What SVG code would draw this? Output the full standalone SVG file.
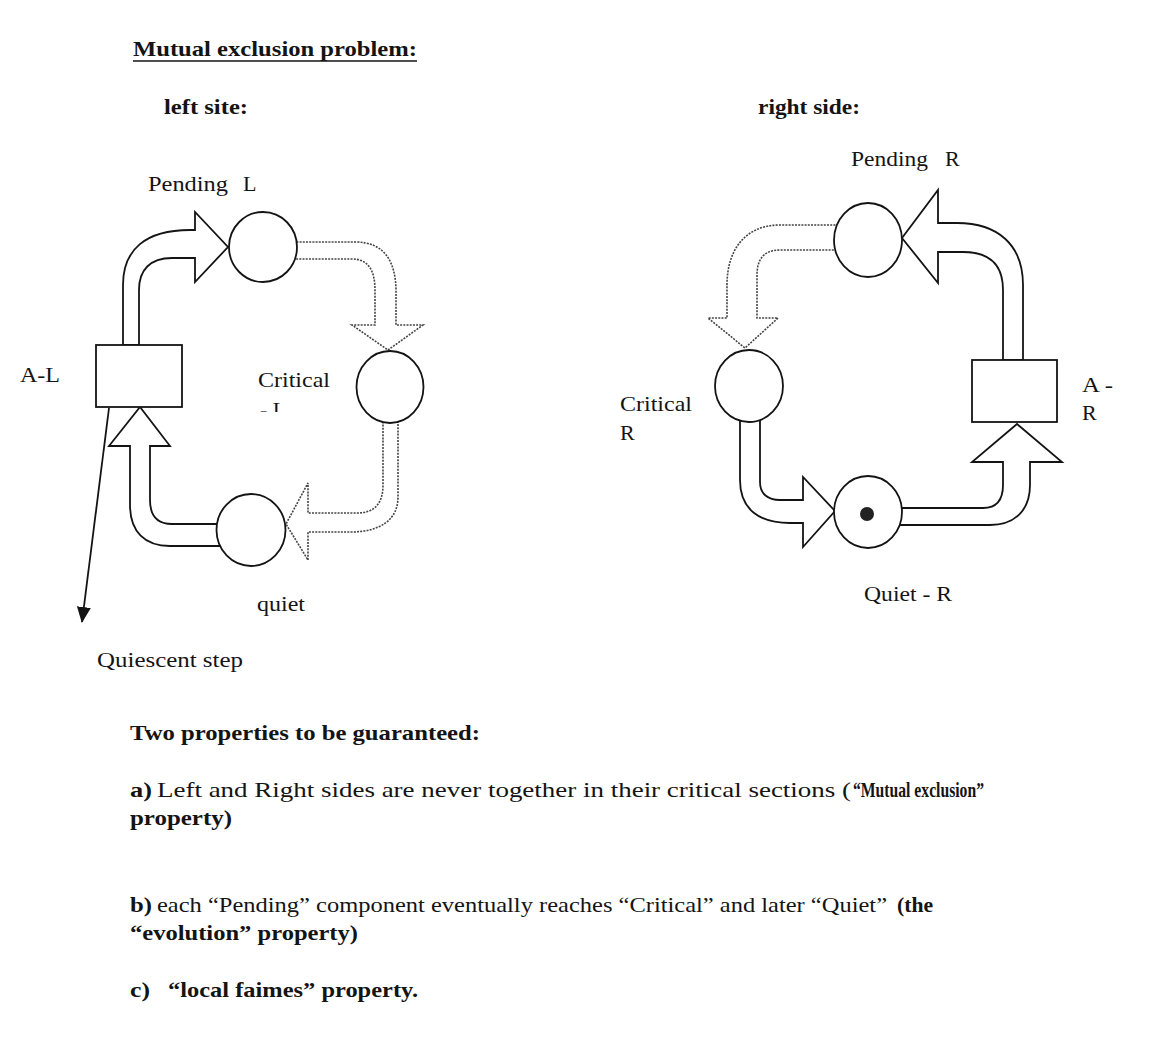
<svg xmlns="http://www.w3.org/2000/svg" width="1150" height="1044" viewBox="0 0 1150 1044">
<defs>
<style>
.t{font-family:"Liberation Serif","Times New Roman",serif;font-size:22px;fill:#141414}
.b{font-weight:bold}
.node{fill:#fff;stroke:#141414;stroke-width:1.8}
.solid{fill:#fff;stroke:#141414;stroke-width:1.8;stroke-linejoin:miter}
.dot{fill:#fff;stroke:#444;stroke-width:1.6;stroke-dasharray:2 1.2}
</style>
<marker id="ah" markerUnits="userSpaceOnUse" markerWidth="16" markerHeight="14" viewBox="0 0 16 14" refX="15" refY="7" orient="auto">
<path d="M0,0 L16,7 L0,14 z" fill="#141414"/>
</marker>
<clipPath id="clipI"><rect x="250" y="390" width="60" height="22"/></clipPath>
</defs>
<rect width="1150" height="1044" fill="#ffffff"/>

<!-- headings -->
<text class="t b" x="133" y="56" font-size="21" textLength="284" lengthAdjust="spacingAndGlyphs">Mutual exclusion problem:</text>
<line x1="133" y1="61" x2="417" y2="61" stroke="#141414" stroke-width="1.6"/>
<text class="t b" x="164" y="114" font-size="21" textLength="84" lengthAdjust="spacingAndGlyphs">left site:</text>
<text class="t b" x="758" y="114" font-size="21" textLength="102" lengthAdjust="spacingAndGlyphs">right side:</text>

<!-- connectors -->
<g id="connectors">
  <!-- left side -->
  <path id="c-AL-PL" class="solid" d="M139,345 L139,290 C139,270 150,258 172,258 L195,258 L195,282 L228,247 L195,212 L195,230 L190,230 C145,230 123,250 123,285 L123,345 Z"/>
  <path id="c-PL-CL" class="dot" d="M290,242 L355,242 C385,242 396,262 396,292 L396,325 L423,325 L388,350 L352,325 L375,325 L375,290 C375,270 368,259 352,259 L290,259 Z"/>
  <path id="c-CL-QL" class="dot" d="M383,415 L383,485 C383,503 375,513 357,513 L308,513 L308,483 L286,524 L308,560 L308,532 L350,532 C380,532 398,520 398,497 L398,415 Z"/>
  <path id="c-QL-AL" class="solid" d="M225,524 L172,524 C158,524 150,516 150,500 L150,446 L170,446 L140,407 L109,446 L130,446 L130,505 C130,532 145,546 170,546 L225,546 Z"/>
  <line id="c-quiescent" x1="109" y1="408" x2="82" y2="622" stroke="#141414" stroke-width="1.8" marker-end="url(#ah)"/>
  <!-- right side -->
  <path id="c-AR-PR" class="solid" d="M1003,360 L1003,290 C1003,265 990,252 963,252 L938,252 L938,283 L902,238 L938,190 L938,223 L957,223 C998,223 1023,245 1023,285 L1023,360 Z"/>
  <path id="c-PR-CR" class="dot" d="M845,225 L780,225 C745,225 727,250 727,285 L727,318 L708,318 L745,348 L778,318 L757,318 L757,275 C757,258 765,250 780,250 L845,250 Z"/>
  <path id="c-CR-QR" class="solid" d="M760,415 L760,482 C760,494 768,500 780,500 L803,500 L803,477 L835,511 L803,547 L803,523 L790,523 C760,523 740,510 740,480 L740,415 Z"/>
  <path id="c-QR-AR" class="solid" d="M895,508 L983,508 C997,508 1003,500 1003,485 L1003,462 L972,462 L1017,424 L1062,462 L1030,462 L1030,485 C1030,510 1015,525 990,525 L895,525 Z"/>
</g>

<!-- left nodes -->
<g id="node-AL">
  <rect class="node" x="96" y="345" width="86" height="62"/>
  <text class="t" x="20" y="382" textLength="40" lengthAdjust="spacingAndGlyphs">A-L</text>
</g>
<g id="node-PL">
  <ellipse class="node" cx="263" cy="247" rx="34" ry="35"/>
  <text class="t" x="148" y="191" textLength="80" lengthAdjust="spacingAndGlyphs">Pending</text>
  <text class="t" x="243" y="191">L</text>
</g>
<g id="node-CL">
  <ellipse class="node" cx="390" cy="387" rx="33.5" ry="36"/>
  <text class="t" x="258" y="387" textLength="72" lengthAdjust="spacingAndGlyphs">Critical</text>
  <text class="t" x="260" y="417" clip-path="url(#clipI)">- L</text>
</g>
<g id="node-QL">
  <ellipse class="node" cx="251" cy="530" rx="34.5" ry="36"/>
  <text class="t" x="257" y="611" textLength="48" lengthAdjust="spacingAndGlyphs">quiet</text>
</g>
<text class="t" x="97" y="667" textLength="146" lengthAdjust="spacingAndGlyphs">Quiescent step</text>

<!-- right nodes -->
<g id="node-PR">
  <ellipse class="node" cx="868" cy="240" rx="34" ry="37"/>
  <text class="t" x="851" y="166" textLength="77" lengthAdjust="spacingAndGlyphs">Pending</text>
  <text class="t" x="945" y="166">R</text>
</g>
<g id="node-CR">
  <ellipse class="node" cx="749" cy="386" rx="34" ry="36"/>
  <text class="t" x="620" y="411" textLength="72" lengthAdjust="spacingAndGlyphs">Critical</text>
  <text class="t" x="620" y="440">R</text>
</g>
<g id="node-QR">
  <ellipse class="node" cx="868" cy="512" rx="34" ry="36"/>
  <circle cx="867" cy="514" r="7" fill="#222"/>
  <text class="t" x="864" y="601" textLength="88" lengthAdjust="spacingAndGlyphs">Quiet - R</text>
</g>
<g id="node-AR">
  <rect class="node" x="972" y="360" width="85" height="62"/>
  <text class="t" x="1082" y="392" textLength="31" lengthAdjust="spacingAndGlyphs">A -</text>
  <text class="t" x="1082" y="420">R</text>
</g>

<!-- properties text -->
<text class="t b" x="130" y="740" textLength="350" lengthAdjust="spacingAndGlyphs">Two properties to be guaranteed:</text>
<text class="t b" x="130" y="797" textLength="22" lengthAdjust="spacingAndGlyphs">a)</text>
<text class="t" x="157" y="797" textLength="694" lengthAdjust="spacingAndGlyphs">Left and Right sides are never together in their critical sections (</text>
<text class="t b" x="853" y="797" textLength="131" lengthAdjust="spacingAndGlyphs">“Mutual exclusion”</text>
<text class="t b" x="130" y="825" textLength="102" lengthAdjust="spacingAndGlyphs">property)</text>
<text class="t b" x="130" y="912" textLength="22" lengthAdjust="spacingAndGlyphs">b)</text>
<text class="t" x="157" y="912" textLength="730" lengthAdjust="spacingAndGlyphs">each “Pending” component eventually reaches “Critical” and later “Quiet”</text>
<text class="t b" x="897" y="912" textLength="36" lengthAdjust="spacingAndGlyphs">(the</text>
<text class="t b" x="130" y="940" textLength="228" lengthAdjust="spacingAndGlyphs">“evolution” property)</text>
<text class="t b" x="130" y="997" textLength="20" lengthAdjust="spacingAndGlyphs">c)</text>
<text class="t b" x="168" y="997" textLength="250" lengthAdjust="spacingAndGlyphs">“local faimes” property.</text>
</svg>
